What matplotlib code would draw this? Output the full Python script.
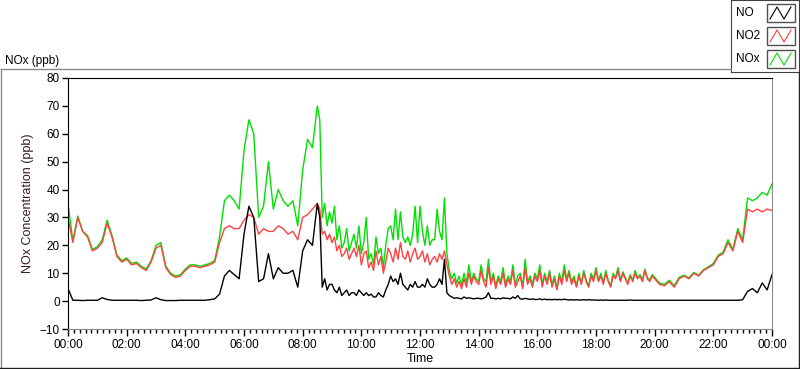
import numpy as np
import matplotlib.pyplot as plt
from matplotlib.lines import Line2D
from matplotlib.patches import Rectangle
from matplotlib.ticker import MultipleLocator, FuncFormatter

# sampling: 10 min until 08:20, 5 min 08:30-19:55 (noisy part), 10 min from 20:00 to 24:00
czas_min = np.concatenate([np.arange(0, 510, 10),
                           np.arange(510, 1200, 5),
                           np.arange(1200, 1441, 10)])

no = [
    # 00:00 - 08:20 (10 min)
    4.5, 0.3, 0.3, 0.2, 0.3, 0.3,
    0.3, 1.2, 0.6, 0.3, 0.3, 0.3,
    0.3, 0.3, 0.3, 0.2, 0.3, 0.4,
    1.2, 0.5, 0.2, 0.2, 0.2, 0.3,
    0.3, 0.3, 0.3, 0.3, 0.3, 0.5,
    0.8, 2.5, 9, 11, 9.5, 8,
    24, 34, 30, 7, 8, 17,
    8, 12, 10, 10, 11, 5,
    18, 22, 20,
    # 08:30 - 19:55 (5 min)
    35, 30, 5, 8, 4, 6,
    6, 4, 3, 5, 2, 3,
    4, 2, 3, 3, 2, 4,
    3, 2, 3, 2, 2.5, 1.5,
    1.5, 3, 2, 1.5, 4, 6,
    9, 7, 8, 6, 10, 6,
    5, 4, 6, 5, 7, 5,
    5, 6, 5, 8, 6, 5,
    5, 6, 8, 6, 15, 3,
    2, 1.5, 1, 1.2, 1, 0.8,
    1.5, 1, 1.2, 1, 0.8, 1,
    1, 0.8, 1, 1.5, 3, 1,
    1, 0.8, 1, 0.8, 1.2, 1,
    1, 0.8, 1.5, 1, 2, 0.8,
    0.7, 1, 0.8, 0.6, 0.8, 0.6,
    0.6, 0.8, 0.5, 0.7, 0.5, 0.6,
    0.5, 0.6, 0.5, 0.6, 0.5, 0.7,
    0.5, 0.4, 0.5, 0.4, 0.5, 0.4,
    0.4, 0.5, 0.4, 0.5, 0.4, 0.4,
    0.4, 0.3, 0.4, 0.3, 0.4, 0.3,
    0.3, 0.3, 0.3, 0.3, 0.3, 0.3,
    0.3, 0.3, 0.4, 0.3, 0.3, 0.3,
    0.3, 0.3, 0.3, 0.3, 0.3, 0.3,
    # 20:00 - 24:00 (10 min)
    0.3, 0.3, 0.3, 0.3, 0.3, 0.3,
    0.3, 0.3, 0.3, 0.3, 0.3, 0.3,
    0.3, 0.3, 0.3, 0.3, 0.3, 0.3,
    0.5, 3.5, 4.5, 3, 6.5, 4,
    9.5,
]

no2 = [
    30, 21, 30, 25, 23, 18,
    19, 21, 28, 23, 16, 14,
    15, 13, 13.5, 12, 11, 14,
    19, 20, 12, 9.5, 8.5, 9,
    11, 12.5, 12.5, 12, 12.5, 13,
    14, 21, 26, 27, 26, 26,
    29, 31, 30, 24, 26, 25,
    25, 27, 26, 24, 25, 22,
    30, 31, 33,
    35, 33, 24, 25, 22, 24,
    21, 23, 18, 20, 16, 17,
    19, 15, 17, 19, 16, 20,
    13, 17, 18, 12, 14, 11,
    18, 13, 16, 10, 14, 19,
    17, 14, 19, 15, 21, 16,
    15, 18, 14, 17, 19, 15,
    16, 18, 14, 17, 13, 15,
    16, 14, 17, 15, 18, 13,
    9, 6, 8, 5, 7, 4.5,
    8, 5, 10, 6, 9, 7,
    6, 11, 7, 5, 12, 6,
    9, 4.5, 8, 6, 10, 5,
    8, 6, 11, 5, 7, 9,
    4.5, 12, 6, 8, 5, 9,
    7, 11, 5, 9, 6, 10,
    5, 8, 4, 9, 6, 11,
    7, 10, 6, 8, 5, 9,
    6, 10, 7, 5, 9, 7,
    11, 7, 9, 6, 10, 7,
    5, 9, 8, 11, 7, 10,
    8, 6, 9, 7, 10, 8,
    9, 7, 11, 8, 7, 9,
    8, 6, 5.5, 7, 5, 8,
    9, 8, 10, 9, 11, 12,
    13, 16, 17, 21, 18, 25,
    21, 33, 32, 33, 32, 33,
    32.5,
]

nox = [
    35, 21.5, 30.5, 25, 23.5, 18.5,
    19.5, 22, 29, 23.5, 16.5, 14.5,
    15.5, 13.5, 14, 12.5, 11.5, 14.5,
    20, 21, 12.5, 10, 9, 9.5,
    11.5, 13, 13, 12.5, 13, 13.5,
    14.5, 23, 36, 38, 36, 33,
    54, 65, 60, 30, 34, 50,
    33, 40, 36, 34, 36, 27,
    47, 58, 55,
    70, 65, 30, 35, 27, 32,
    28, 34, 22, 27, 19, 21,
    26, 18, 21, 24, 19, 27,
    17, 21, 30, 15, 17, 13,
    23, 17, 19, 12, 20, 26,
    27, 22, 33, 22, 32, 23,
    21, 23, 20, 24, 34, 21,
    34, 25, 20, 27, 20, 22,
    22, 33, 25, 22, 37, 17,
    11, 8, 10, 6.5, 9, 5.5,
    10, 6.5, 13, 7, 10, 8,
    7, 13, 8, 7, 15, 7,
    10, 5.5, 9, 7, 12, 6,
    9, 7, 13, 6, 9, 10,
    5, 15, 7, 9, 6, 10,
    8, 13, 6, 10, 7, 11,
    6, 9, 4.5, 10, 7, 13,
    8, 11, 7, 9, 5.5, 10,
    6.5, 11, 7.5, 5.5, 10, 8,
    12, 7.5, 10, 6.5, 11, 7.5,
    5.5, 10, 8.5, 12, 7.5, 10.5,
    8.5, 6.5, 9.5, 7.5, 11, 8.5,
    9.5, 7.5, 11.5, 8.5, 7.5, 9.5,
    8.5, 6.5, 6, 7.5, 5.5, 8.5,
    9.3, 8.3, 10.3, 9.3, 11.3, 12.3,
    13.5, 16.5, 17.5, 22, 18.5, 26,
    22, 37, 36, 37, 39, 38,
    42,
]

serie = [("NO", no, "black"), ("NO2", no2, "#ff4040"), ("NOx", nox, "#00e000")]

plt.rcParams['font.family'] = ['Liberation Sans', 'DejaVu Sans']

fig = plt.figure(figsize=(8, 3.69), dpi=100)
W, H = 800, 369


def px(x0, y0, x1, y1):
    # pixel box -> figure fraction
    return [x0 / W, 1 - y1 / H, (x1 - x0) / W, (y1 - y0) / H]


# outer panel frame
fig.add_artist(Line2D([0.5 / W, 0.5 / W], [1 - 69 / H, 1 - 368 / H], color='#8a8a8a', lw=1))
fig.add_artist(Line2D([0.5 / W, 731 / W], [1 - 69 / H, 1 - 69 / H], color='#8a8a8a', lw=1))
fig.add_artist(Line2D([0, 799 / W], [1 - 368 / H, 1 - 368 / H], color='#202020', lw=1))
fig.add_artist(Line2D([798.5 / W, 798.5 / W], [1 - 72 / H, 1 - 368 / H], color='#202020', lw=1))

fig.text(5 / W, 1 - 61 / H, 'NOx (ppb)', fontsize=8.5, va='center', ha='left')

ax = fig.add_axes(px(68, 78, 772, 329))
t_h = czas_min / 60.0
for nazwa, dane, kolor in reversed(serie):
    ax.plot(t_h, dane, color=kolor, lw=1)

ax.set_xlim(0, 24)
ax.set_ylim(-10, 80)
ax.xaxis.set_major_locator(MultipleLocator(2))
ax.xaxis.set_minor_locator(MultipleLocator(0.2))
ax.xaxis.set_major_formatter(FuncFormatter(lambda v, p: '%02d:00' % (int(round(v)) % 24)))
ax.yaxis.set_major_locator(MultipleLocator(10))
ax.tick_params(axis='both', labelsize=8.5, length=4, width=1, color='black', pad=2)
ax.tick_params(axis='x', which='minor', length=3, width=1)
ax.tick_params(axis='x', which='major', length=5)
for s in ['left', 'top']:
    ax.spines[s].set_color('black')
for s in ['right', 'bottom']:
    ax.spines[s].set_color('#8a8a8a')
ax.set_ylabel('NOx Concentration (ppb)', fontsize=9, color='#3a1a1a', labelpad=4)
ax.set_xlabel('Time', fontsize=9, labelpad=2)

# legend box in top right corner
leg = fig.add_axes(px(731, 0, 799, 72))
leg.set_xlim(731, 799)
leg.set_ylim(72, 0)
leg.set_xticks([])
leg.set_yticks([])
for s in leg.spines.values():
    s.set_color('#404040')
rzedy = [(4, 22), (27, 45), (50, 68)]
for (nazwa, dane, kolor), (y0, y1) in zip(serie, rzedy):
    leg.text(736, (y0 + y1) / 2, nazwa, fontsize=8.5, va='center', ha='left')
    leg.add_patch(Rectangle((767, y0), 28, y1 - y0, facecolor='white', edgecolor='#505050', lw=1))
    xs = [770, 777, 784, 791]
    ys = [y1 - 3, y0 + 3, y1 - 3, y0 + 3]
    leg.plot(xs, ys, color=kolor, lw=0.8)

fig.savefig('out.png', dpi=100)
